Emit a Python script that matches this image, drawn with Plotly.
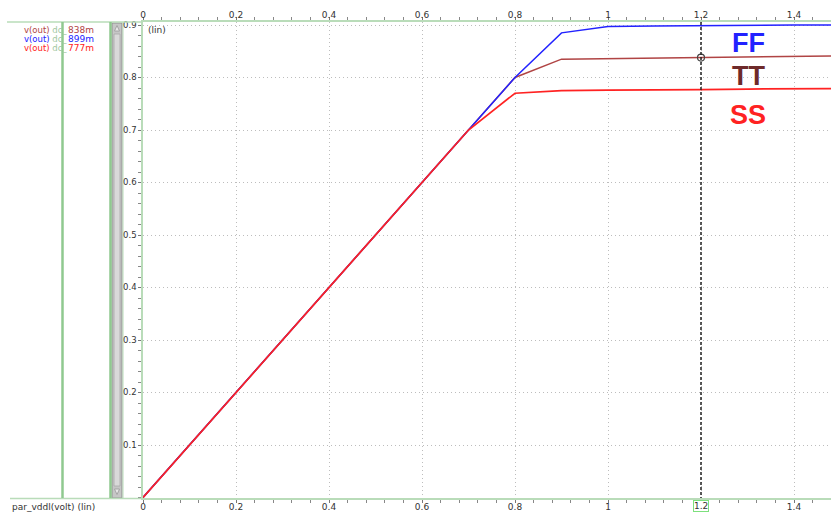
import plotly.graph_objects as go

# ---- data ----
vdd = [0.0, 0.1, 0.2, 0.3, 0.4, 0.5, 0.6, 0.7, 0.8, 0.9, 1.0, 1.1, 1.2, 1.3, 1.4, 1.5]
ff = [0.0, 0.1, 0.2, 0.3, 0.4, 0.5, 0.6, 0.7, 0.800, 0.885, 0.897, 0.898, 0.899, 0.899, 0.900, 0.900]
tt = [0.0, 0.1, 0.2, 0.3, 0.4, 0.5, 0.6, 0.7, 0.800, 0.835, 0.836, 0.837, 0.838, 0.839, 0.840, 0.841]
ss = [0.0, 0.1, 0.2, 0.3, 0.4, 0.5, 0.6, 0.7, 0.770, 0.775, 0.776, 0.776, 0.777, 0.778, 0.778, 0.779]
x_ticks = [0, 0.2, 0.4, 0.6, 0.8, 1.0, 1.2, 1.4]
x_tick_text = ["0", "0.2", "0.4", "0.6", "0.8", "1", "1.2", "1.4"]
y_ticks = [0.1, 0.2, 0.3, 0.4, 0.5, 0.6, 0.7, 0.8, 0.9]
y_tick_text = ["0.1", "0.2", "0.3", "0.4", "0.5", "0.6", "0.7", "0.8", "0.9"]
cursor_x = 1.2
cursor_label = "1.2"
cursor_vals = ["838m", "899m", "777m"]
corner_names = ["FF", "TT", "SS"]

W, H = 831, 512
C_FF = "#2222ff"
C_TT = "#b04444"
C_SS = "#ff2222"
GREEN = "#b9dcb9"
GREEN2 = "#8fc98f"
FONT = "DejaVu Sans"


def px(x):
    return x / W


def py(y):
    return 1 - y / H


fig = go.Figure()
fig.add_trace(go.Scatter(x=vdd, y=tt, mode="lines", line=dict(color=C_TT, width=1.5), xaxis="x", yaxis="y"))
fig.add_trace(go.Scatter(x=vdd, y=ff, mode="lines", line=dict(color=C_FF, width=1.5), xaxis="x", yaxis="y"))
fig.add_trace(go.Scatter(x=vdd, y=ss, mode="lines", line=dict(color=C_SS, width=1.7), xaxis="x", yaxis="y"))
# cursor marker on TT
fig.add_trace(go.Scatter(x=[cursor_x], y=[tt[vdd.index(cursor_x)]], mode="markers",
                         marker=dict(symbol="circle-open", size=7, color="#444", line=dict(width=1.2)),
                         xaxis="x", yaxis="y"))
# dummy trace for top axis
fig.add_trace(go.Scatter(x=[0], y=[0], mode="markers", marker=dict(opacity=0), xaxis="x2", yaxis="y",
                         hoverinfo="skip"))

xr = [0, (W - 143) / 465.0]
yr = [-0.5 / 525.0, (497.5 - 22) / 525.0]
xdom = [143 / W, 1]
ydom = [1 - 498 / H, 1 - 22 / H]

bottom_text = [("" if t == cursor_label else t) for t in x_tick_text]


def xaxis_cfg(ticktext, side):
    return dict(range=xr, domain=xdom, tickvals=x_ticks, ticktext=ticktext, ticks="outside", side=side,
                ticklen=3, tickcolor="#777", tickwidth=1, showline=True, linecolor=GREEN, linewidth=1.5,
                tickfont=dict(family=FONT, size=9, color="#333"), zeroline=False, automargin=False,
                ticklabelstandoff=-4,
                minor=dict(dtick=0.04, ticks="outside", ticklen=3, tickcolor="#888", showgrid=False))


fig.update_layout(
    width=W, height=H, margin=dict(l=0, r=0, t=0, b=0),
    paper_bgcolor="white", plot_bgcolor="white", showlegend=False,
    xaxis=dict(**xaxis_cfg(bottom_text, "bottom"), showgrid=True, gridcolor="#bdbdbd",
               griddash="1px,3px", gridwidth=1),
    xaxis2=dict(**xaxis_cfg(x_tick_text, "top"), overlaying="x", anchor="y", showgrid=False),
    yaxis=dict(range=yr, domain=ydom, tickvals=y_ticks, ticktext=y_tick_text, ticks="outside",
               ticklen=3, tickcolor="#777", showline=True, linecolor=GREEN, linewidth=1.5,
               tickfont=dict(family=FONT, size=8.5, color="#333"), zeroline=False, automargin=False,
               showgrid=True, gridcolor="#bdbdbd", griddash="1px,3px", ticklabelstandoff=0,
               minor=dict(dtick=0.02, ticks="outside", ticklen=3, tickcolor="#888", showgrid=False)),
)

shapes = []
# cursor line
shapes.append(dict(type="line", xref="x", yref="paper", x0=cursor_x, x1=cursor_x, y0=py(22), y1=py(498),
                   line=dict(color="#222", width=1.5, dash="3px,2px")))
# extended top / bottom green lines across left panel
shapes.append(dict(type="line", xref="paper", yref="paper", x0=px(7), x1=px(143), y0=py(22), y1=py(22),
                   line=dict(color=GREEN, width=1.5)))
shapes.append(dict(type="line", xref="paper", yref="paper", x0=px(10), x1=px(143), y0=py(498.5), y1=py(498.5),
                   line=dict(color=GREEN, width=1.5)))
# vertical green separators
for xv in [62.5, 110.5]:
    shapes.append(dict(type="line", xref="paper", yref="paper", x0=px(xv), x1=px(xv), y0=py(22), y1=py(498),
                       line=dict(color=GREEN2, width=2.5)))
# scrollbar
shapes.append(dict(type="rect", xref="paper", yref="paper", x0=px(112), x1=px(122), y0=py(23), y1=py(498),
                   fillcolor="#c6c6c6", line=dict(color="#8f8f8f", width=1), layer="below"))
shapes.append(dict(type="rect", xref="paper", yref="paper", x0=px(114), x1=px(120), y0=py(34), y1=py(486),
                   fillcolor="#d9d9d9", line=dict(color="#a8a8a8", width=0.8), layer="below"))
shapes.append(dict(type="line", xref="paper", yref="paper", x0=px(123), x1=px(123), y0=py(22), y1=py(498),
                   line=dict(color=GREEN, width=1), layer="below"))
# arrows
shapes.append(dict(type="path", xref="paper", yref="paper",
                   path=f"M {px(114.5)} {py(31)} L {px(119.5)} {py(31)} L {px(117)} {py(25.5)} Z",
                   fillcolor="#e8e8e8", line=dict(color="#999", width=0.8)))
shapes.append(dict(type="path", xref="paper", yref="paper",
                   path=f"M {px(114.5)} {py(489)} L {px(119.5)} {py(489)} L {px(117)} {py(494.5)} Z",
                   fillcolor="#e8e8e8", line=dict(color="#999", width=0.8)))
fig.update_layout(shapes=shapes)

ann = []
# corner labels
for name, col, yy in zip(corner_names, [C_FF, "#6e2a2a", C_SS], [43, 76, 115]):
    ann.append(dict(xref="paper", yref="paper", x=px(748), y=py(yy), text=f"<b>{name}</b>", showarrow=False,
                    font=dict(family="Liberation Sans", size=27, color=col), xanchor="center", yanchor="middle"))
# left legend rows
row_cols = [C_TT, C_FF, C_SS]
for i, (val, col) in enumerate(zip(cursor_vals, row_cols)):
    yy = 30 + 9 * i
    ann.append(dict(xref="paper", yref="paper", x=px(22), y=py(yy),
                    text=f"<span style='color:{col}'>v(out)</span> <span style='color:#9fc79f'>dc_</span>",
                    showarrow=False, xanchor="left", yanchor="middle",
                    font=dict(family=FONT, size=8.5, color=col)))
    ann.append(dict(xref="paper", yref="paper", x=px(66), y=py(yy), text=val, showarrow=False,
                    xanchor="left", yanchor="middle", font=dict(family=FONT, size=9, color=col)))
# (lin) label for y
ann.append(dict(xref="paper", yref="paper", x=px(146), y=py(30), text="(lin)", showarrow=False,
                xanchor="left", yanchor="middle", font=dict(family=FONT, size=9, color="#333")))
# x axis name
ann.append(dict(xref="paper", yref="paper", x=px(10), y=py(506.5), text="par_vddl(volt) (lin)", showarrow=False,
                xanchor="left", yanchor="middle", font=dict(family=FONT, size=9, color="#333")))
# cursor value box on bottom axis
ann.append(dict(xref="x", yref="paper", x=cursor_x, y=py(506), text=cursor_label, showarrow=False,
                xanchor="center", yanchor="middle", bgcolor="white", bordercolor="#7de07d", borderwidth=1,
                borderpad=0, font=dict(family=FONT, size=9, color="#333")))
fig.update_layout(annotations=ann)

fig.write_html("out.html")
